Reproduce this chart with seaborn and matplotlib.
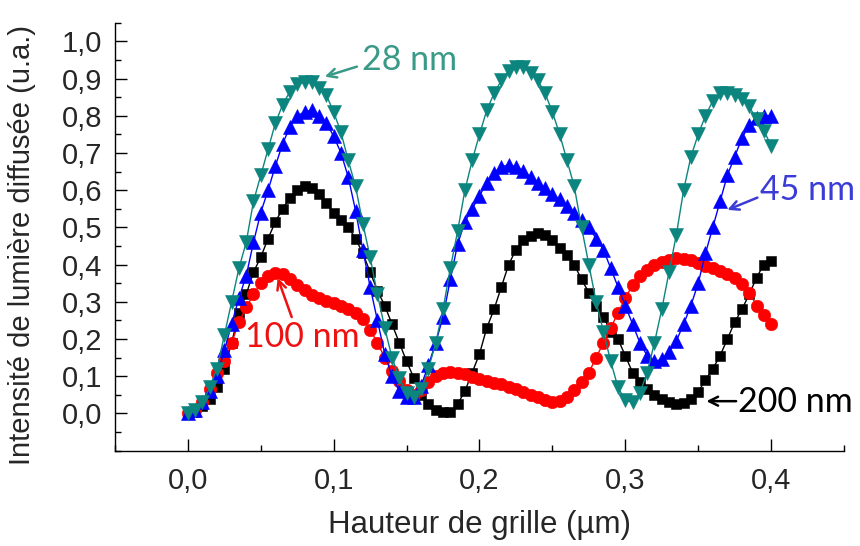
import matplotlib
matplotlib.use("Agg")
import matplotlib.pyplot as plt
from matplotlib.ticker import MultipleLocator
import pandas as pd
import seaborn as sns

# Grid height (um) and scattered intensity (a.u.)

hauteur = [
    0.000, 0.005, 0.010, 0.015, 0.020, 0.025, 0.030, 0.035, 0.040, 0.045,
    0.050, 0.055, 0.060, 0.065, 0.070, 0.075, 0.080, 0.085, 0.090, 0.095,
    0.100, 0.105, 0.110, 0.115, 0.120, 0.125, 0.130, 0.135, 0.140, 0.145,
    0.150, 0.155, 0.160, 0.165, 0.170, 0.175, 0.180, 0.185, 0.190, 0.195,
    0.200, 0.205, 0.210, 0.215, 0.220, 0.225, 0.230, 0.235, 0.240, 0.245,
    0.250, 0.255, 0.260, 0.265, 0.270, 0.275, 0.280, 0.285, 0.290, 0.295,
    0.300, 0.305, 0.310, 0.315, 0.320, 0.325, 0.330, 0.335, 0.340, 0.345,
    0.350, 0.355, 0.360, 0.365, 0.370, 0.375, 0.380, 0.385, 0.390, 0.395,
    0.400,
]

i_200nm = [
    0.00, 0.005, 0.02, 0.04, 0.07, 0.12, 0.19, 0.27, 0.32, 0.38,
    0.42, 0.47, 0.515, 0.55, 0.58, 0.60, 0.61, 0.605, 0.59, 0.565,
    0.54, 0.52, 0.50, 0.47, 0.43, 0.38, 0.33, 0.29, 0.24, 0.19,
    0.14, 0.095, 0.05, 0.025, 0.01, 0.003, 0.005, 0.025, 0.06, 0.11,
    0.16, 0.23, 0.28, 0.34, 0.40, 0.44, 0.465, 0.478, 0.485, 0.48,
    0.465, 0.445, 0.425, 0.40, 0.36, 0.325, 0.29, 0.26, 0.22, 0.20,
    0.155, 0.11, 0.085, 0.065, 0.05, 0.038, 0.03, 0.025, 0.027, 0.04,
    0.058, 0.09, 0.12, 0.155, 0.20, 0.245, 0.28, 0.32, 0.365, 0.40,
    0.41,
]

i_100nm = [
    0.00, 0.01, 0.03, 0.065, 0.11, 0.14, 0.19, 0.245, 0.285, 0.32,
    0.35, 0.37, 0.378, 0.375, 0.36, 0.345, 0.333, 0.318, 0.31, 0.303,
    0.297, 0.29, 0.282, 0.27, 0.255, 0.225, 0.19, 0.15, 0.115, 0.088,
    0.062, 0.05, 0.063, 0.085, 0.10, 0.108, 0.112, 0.11, 0.105, 0.098,
    0.093, 0.088, 0.082, 0.078, 0.072, 0.066, 0.058, 0.05, 0.043, 0.036,
    0.032, 0.033, 0.045, 0.062, 0.085, 0.11, 0.15, 0.19, 0.23, 0.27,
    0.31, 0.345, 0.37, 0.385, 0.398, 0.408, 0.413, 0.418, 0.416, 0.412,
    0.405, 0.397, 0.39, 0.383, 0.375, 0.363, 0.348, 0.325, 0.29, 0.265,
    0.24,
]

i_45nm = [
    0.00, 0.01, 0.03, 0.06, 0.10, 0.17, 0.24, 0.31, 0.37, 0.46,
    0.54, 0.60, 0.665, 0.725, 0.77, 0.80, 0.81, 0.815, 0.80, 0.78,
    0.745, 0.70, 0.635, 0.545, 0.44, 0.34, 0.25, 0.16, 0.10, 0.06,
    0.045, 0.045, 0.075, 0.13, 0.19, 0.26, 0.36, 0.455, 0.515, 0.55,
    0.585, 0.62, 0.647, 0.663, 0.668, 0.663, 0.652, 0.635, 0.618, 0.605,
    0.59, 0.575, 0.558, 0.54, 0.52, 0.50, 0.47, 0.44, 0.39, 0.34,
    0.29, 0.24, 0.19, 0.155, 0.14, 0.145, 0.165, 0.195, 0.24, 0.29,
    0.35, 0.43, 0.50, 0.57, 0.64, 0.69, 0.74, 0.775, 0.795, 0.80,
    0.80,
]

i_28nm = [
    0.00, 0.01, 0.03, 0.07, 0.12, 0.21, 0.30, 0.39, 0.46, 0.57,
    0.64, 0.71, 0.78, 0.83, 0.865, 0.885, 0.89, 0.89, 0.875, 0.855,
    0.81, 0.755, 0.68, 0.61, 0.51, 0.42, 0.32, 0.23, 0.15, 0.095,
    0.055, 0.045, 0.065, 0.12, 0.19, 0.28, 0.39, 0.49, 0.60, 0.68,
    0.75, 0.815, 0.86, 0.895, 0.92, 0.93, 0.93, 0.915, 0.895, 0.86,
    0.81, 0.75, 0.68, 0.61, 0.50, 0.40, 0.30, 0.22, 0.14, 0.07,
    0.035, 0.03, 0.055, 0.11, 0.19, 0.28, 0.38, 0.48, 0.60, 0.69,
    0.75, 0.80, 0.84, 0.86, 0.86, 0.855, 0.845, 0.825, 0.79, 0.76,
    0.72,
]

x_ticks = [0.0, 0.1, 0.2, 0.3, 0.4]
y_ticks = [0.0, 0.1, 0.2, 0.3, 0.4, 0.5, 0.6, 0.7, 0.8, 0.9, 1.0]

# Style

sns.set_style("ticks")
plt.rcParams["font.family"] = ["Liberation Sans", "DejaVu Sans"]

fig = plt.figure(figsize=(8.6, 5.46), dpi=100)
ax = fig.add_axes([0.1337, 0.1746, 0.8477, 0.7838])

# name, values, colour, marker, marker size
series = [
    ("200 nm", i_200nm, "black", "s", 7.2),
    ("100 nm", i_100nm, "#ff0000", "o", 9.0),
    ("45 nm", i_45nm, "#0000ff", "^", 9.6),
    ("28 nm", i_28nm, "#0b857e", "v", 9.6),
]

for name, vals, color, marker, ms in series:
    df = pd.DataFrame({"hauteur": hauteur, "intensite": vals})
    sns.lineplot(
        data=df,
        x="hauteur",
        y="intensite",
        color=color,
        marker=marker,
        markersize=ms,
        markeredgecolor=color,
        markeredgewidth=0.4,
        linewidth=1.0,
        errorbar=None,
        ax=ax,
    )

# Axes

ax.set_xlim(-0.05, 0.45)
ax.set_ylim(-0.1, 1.05)
ax.set_xticks(x_ticks)
ax.set_yticks(y_ticks)
ax.set_xticklabels([f"{v:.1f}".replace(".", ",") for v in x_ticks])
ax.set_yticklabels([f"{v:.1f}".replace(".", ",") for v in y_ticks])
ax.xaxis.set_minor_locator(MultipleLocator(0.05))
ax.yaxis.set_minor_locator(MultipleLocator(0.05))
ax.tick_params(which="both", direction="in", width=1.0, color="black",
               labelsize=21)
ax.tick_params(axis="x", pad=12)
ax.tick_params(axis="y", pad=9)
ax.tick_params(which="major", length=8.5)
ax.tick_params(which="minor", length=4.2)

sns.despine(ax=ax)
for side in ["left", "bottom"]:
    ax.spines[side].set_linewidth(1.0)
    ax.spines[side].set_color("black")

ax.set_xlabel("Hauteur de grille (µm)", fontsize=22.5, va="center")
ax.xaxis.set_label_coords(0.5, -0.174)
ax.set_ylabel("Intensité de lumière diffusée (u.a.)", fontsize=21, va="center")
ax.yaxis.set_label_coords(-0.128, 0.48)

# Curve labels with arrows

labels = [
    ("28 nm", "#3a9a88", (0.1193, 0.951), "left", (0.1159, 0.932), (0.0939, 0.905)),
    ("45 nm", "#3b3bd6", (0.3926, 0.601), "left", (0.3906, 0.580), (0.3700, 0.547)),
    ("100 nm", "#ee1111", (0.0784, 0.205), "center", (0.0712, 0.259), (0.0616, 0.364)),
    ("200 nm", "black", (0.3775, 0.031), "left", (0.3760, 0.033), (0.3556, 0.033)),
]

for text, color, pos, ha, tail, head in labels:
    ax.text(pos[0], pos[1], text, color=color, fontsize=24.5,
            family=["Lato", "DejaVu Sans"], ha=ha, va="center")
    ax.annotate(
        "",
        xy=head,
        xytext=tail,
        arrowprops=dict(arrowstyle="->", color=color, lw=1.8,
                        shrinkA=0, shrinkB=0, mutation_scale=16),
    )

fig.savefig("out.png", dpi=100)
